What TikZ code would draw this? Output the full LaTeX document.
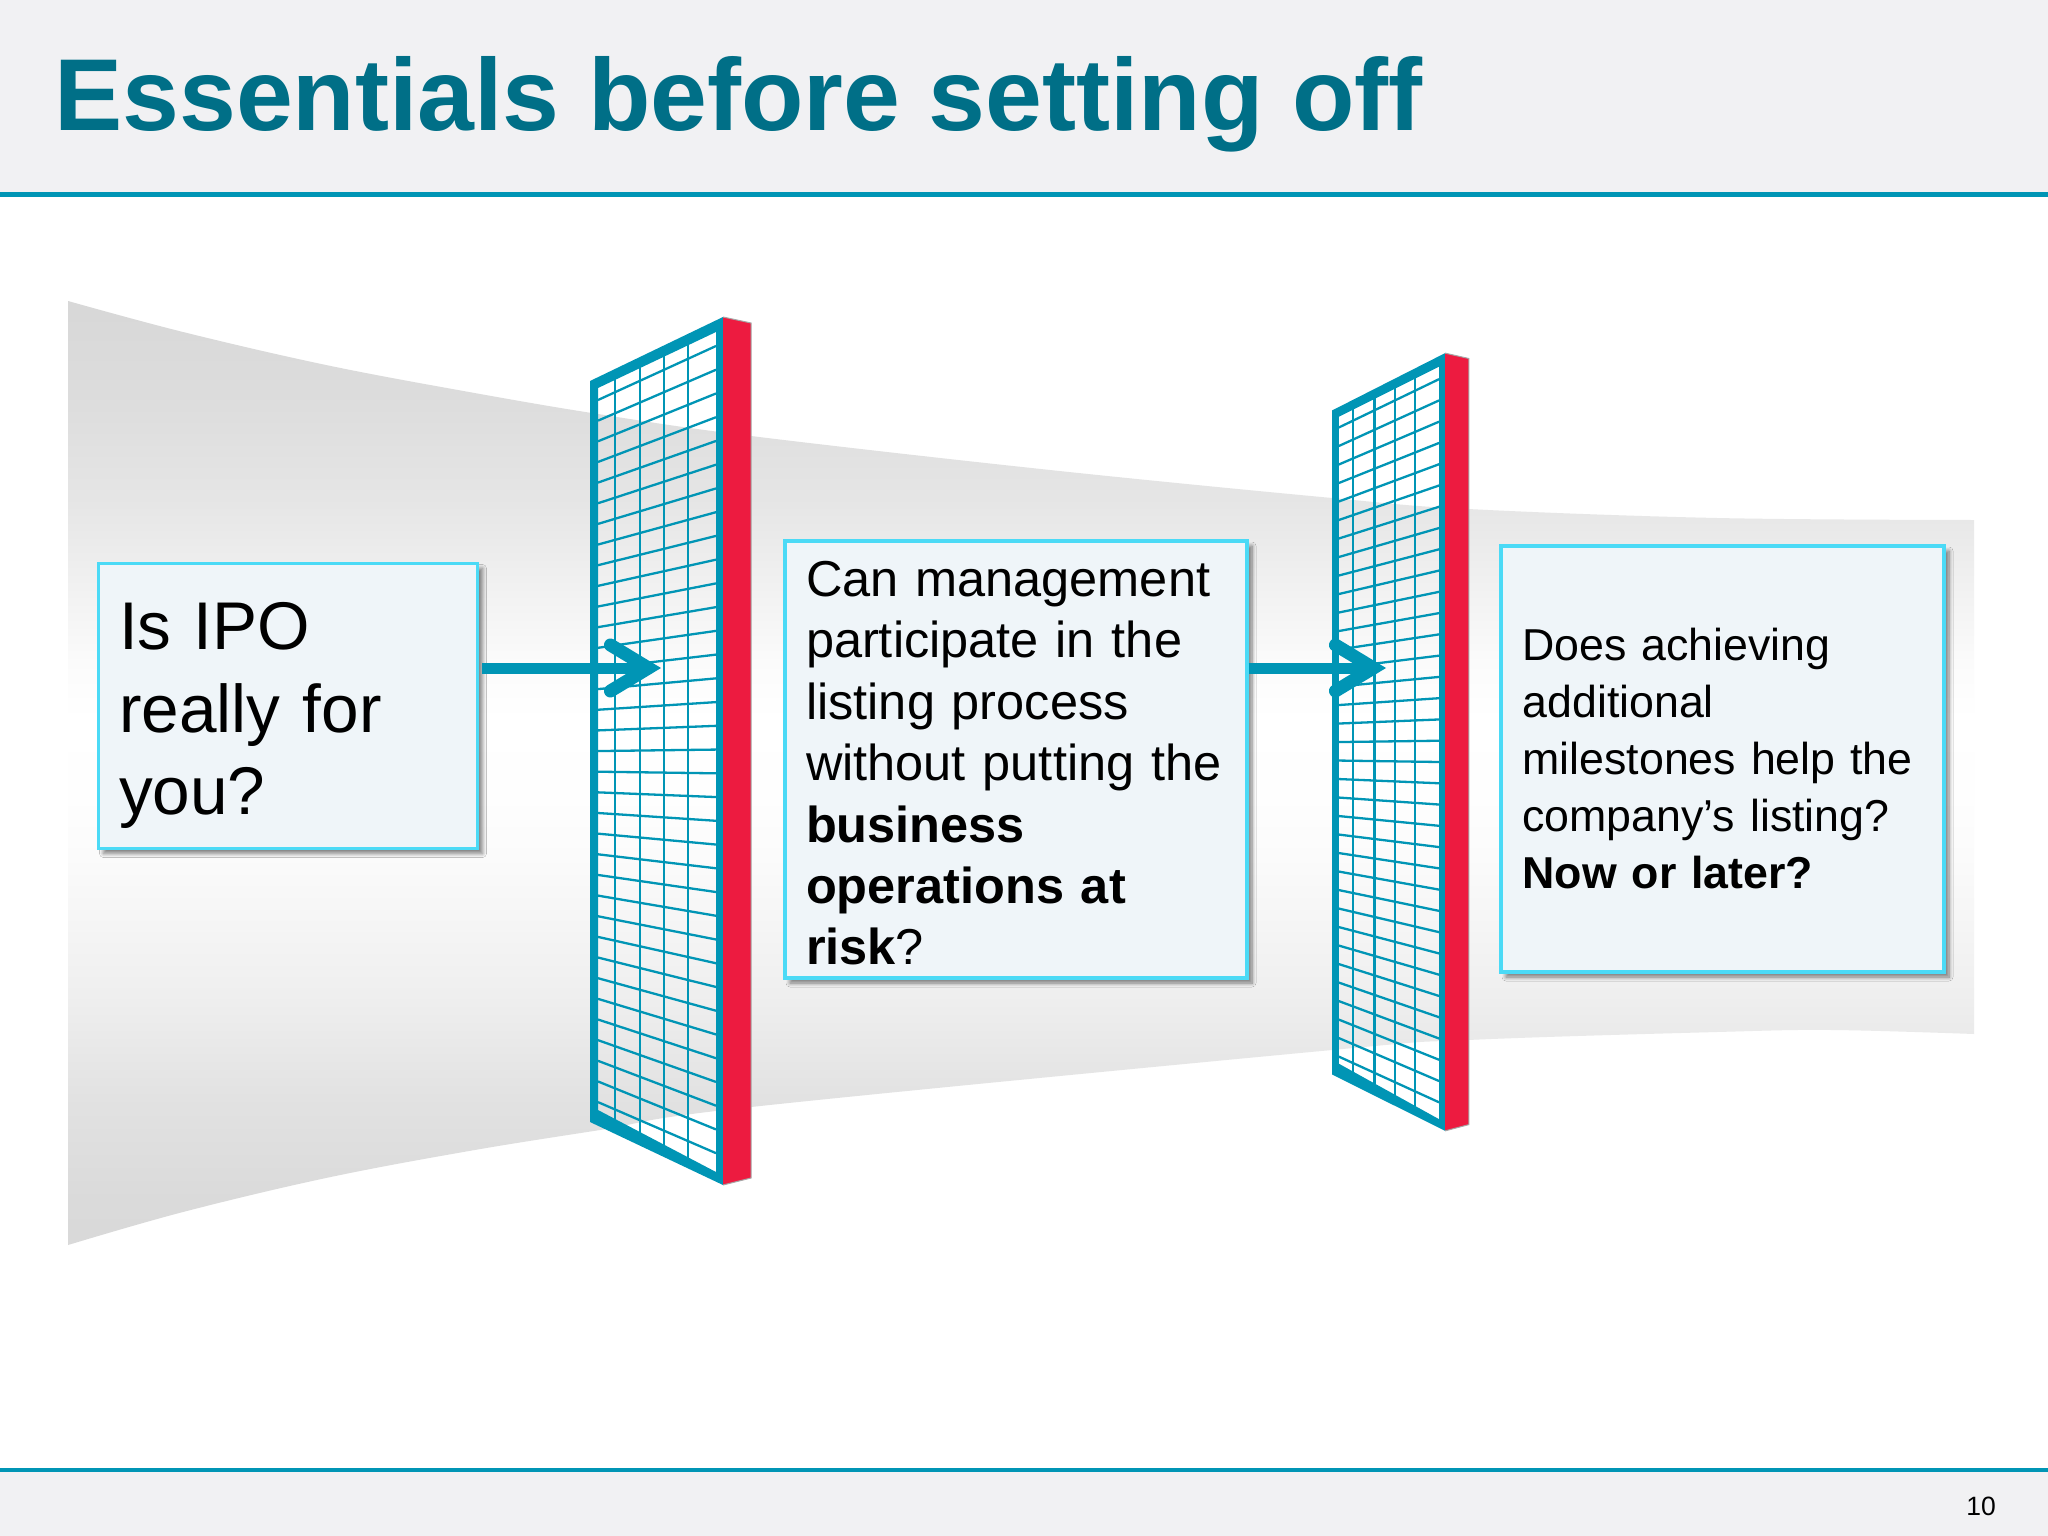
\documentclass[tikz,border=0pt]{standalone}
\usepackage{fontspec}
\setmainfont{Liberation Sans}
\usetikzlibrary{arrows.meta,shadows.blur}
\definecolor{tealtitle}{HTML}{006F87}
\definecolor{tealline}{HTML}{0095B5}
\definecolor{boxedge}{HTML}{4BDAF6}
\definecolor{boxfill}{HTML}{EFF5F9}
\definecolor{headbar}{HTML}{F1F1F3}
\definecolor{gatered}{HTML}{ED1B40}
\pgfdeclareverticalshading{bandfade}{100bp}{gray(0bp)=(.85); gray(25bp)=(.85); gray(27.4bp)=(.855); gray(32.7bp)=(.885); gray(38bp)=(.935); gray(43.3bp)=(.97); gray(45.7bp)=(.985); gray(48.5bp)=(.995); gray(52.8bp)=(1); gray(55.8bp)=(.985); gray(59.9bp)=(.945); gray(64.4bp)=(.9); gray(69.7bp)=(.865); gray(75bp)=(.845); gray(100bp)=(.845)}
\tikzset{
  qbox/.style={draw=boxedge,fill=boxfill,line width=3.4pt,inner sep=0pt,align=left,
    blur shadow={shadow xshift=5pt,shadow yshift=-5pt,shadow blur steps=8,shadow blur radius=4pt,shadow opacity=50}},
  flow/.style={draw=tealline,line width=11pt,-{Straight Barb[length=38pt,width=46pt,line width=13pt,line cap=round,line join=miter]}},
  gate/.pic={
    % grid first, the frame covers its ends
    \foreach \i in {0,...,34}
      \draw[tealline,line width=2.3pt] (8,400-751+20.65*\i) -- (126,346-751+23.74*\i);
    \foreach \xx in {25,50,74,98}
      \draw[tealline,line width=2.3pt] (\xx,-363-.475*\xx) -- (\xx,359+.525*\xx);
    \fill[tealline,even odd rule] (0,-370) -- (133,-434) -- (133,434) -- (0,371) -- cycle
      (8,-363) -- (126,-419) -- (126,421) -- (8,359) -- cycle;
    \fill[gatered] (133,-434) -- (161,-428) -- (161,427) -- (133,434) -- cycle;
    \draw[gray!70,line width=1pt] (133,-434) -- (161,-428) -- (161,427) -- (133,434);
  }
}
\begin{document}
\begin{tikzpicture}[x=1pt,y=-1pt]
\useasboundingbox (0,0) rectangle (2048,1536);
\fill[white] (0,0) rectangle (2048,1536);
% header and footer
\fill[headbar] (0,0) rectangle (2048,193);
\fill[headbar] (0,1470) rectangle (2048,1536);
\draw[tealline,line width=4.4pt] (0,194.5) -- (2048,194.5);
\draw[tealline,line width=4.4pt] (0,1470) -- (2048,1470);
\node[anchor=base west,inner sep=0pt,text=tealtitle,font=\fontsize{102.2}{103}\selectfont\bfseries] (title) at (54,131) {Essentials before setting off};
\node[anchor=base east,inner sep=0pt,font=\fontsize{26.5}{26.5}\selectfont] (pageno) at (1996,1515) {10};
% band behind the gates
\shade[shading=bandfade] plot[smooth,tension=.6] coordinates {(68,301) (183,332) (326,365) (469,392) (598,414) (751,436) (1050,470) (1332,498) (1468,509) (1717,518) (1974,520)}
  -- plot[smooth,tension=.6] coordinates {(1974,1034) (1832,1030) (1717,1032) (1468,1040) (1332,1050) (751,1107) (600,1130) (469,1151) (326,1178) (183,1212) (68,1245)} -- cycle;
% gates
\pic at (590,751) {gate};
\pic at (1332,742) [xscale=.85,yscale=.896] {gate};
% question boxes
\node[qbox,minimum width=379pt,minimum height=285pt,text width=338pt,font=\fontsize{67.5}{82.4}\selectfont] (ipo) at (288,706)
  {\rule{0pt}{66pt}Is IPO\\really for\\you?};
\node[qbox,minimum width=462pt,minimum height=437pt,text width=420pt,font=\fontsize{50.5}{61.4}\selectfont] (mgmt) at (1016,759.5)
  {\rule{0pt}{43pt}Can management\\participate in the\\listing process\\without putting the\\\textbf{business}\\\textbf{operations at}\\\textbf{risk}?};
\node[qbox,minimum width=443pt,minimum height=426pt,text width=400pt,font=\fontsize{44.7}{57}\selectfont] (miles) at (1722.5,759)
  {Does achieving\\additional\\milestones help the\\company’s listing?\\\textbf{Now or later?}};
% arrows
\coordinate (tipA) at (661,668);
\coordinate (tipB) at (1386,668);
\draw[flow] ([xshift=3pt]ipo.east |- tipA) -- (tipA);
\draw[flow] (mgmt.east |- tipB) -- (tipB);
\end{tikzpicture}
\end{document}
